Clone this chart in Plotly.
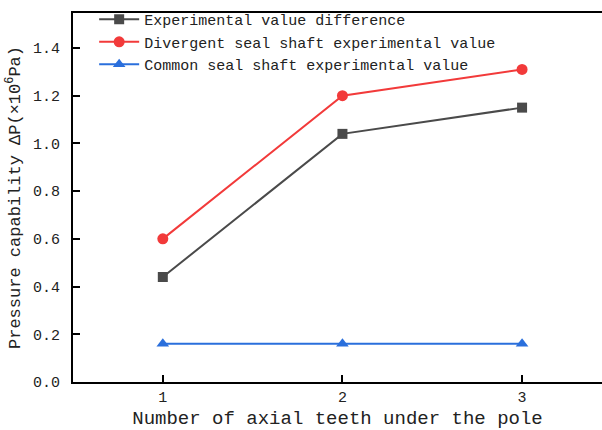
import plotly.graph_objects as go

# Number of axial teeth under the pole
teeth = [1, 2, 3]

# Pressure capability (x10^6 Pa)
diff_values = [0.44, 1.04, 1.15]
divergent_values = [0.60, 1.20, 1.31]
common_values = [0.16, 0.16, 0.16]

series_names = [
    "Experimental value difference",
    "Divergent seal shaft experimental value",
    "Common seal shaft experimental value",
]

FONT = "Liberation Mono"

fig = go.Figure()
fig.add_trace(go.Scatter(
    x=teeth, y=diff_values, name=series_names[0], mode="lines+markers",
    line=dict(color="#4a4a4a", width=2),
    marker=dict(symbol="square", size=10, color="#4a4a4a"),
))
fig.add_trace(go.Scatter(
    x=teeth, y=divergent_values, name=series_names[1], mode="lines+markers",
    line=dict(color="#f23a3a", width=2),
    marker=dict(symbol="circle", size=11, color="#f23a3a"),
))
fig.add_trace(go.Scatter(
    x=teeth, y=common_values, name=series_names[2], mode="lines+markers",
    line=dict(color="#2a6fdc", width=2),
    marker=dict(symbol="triangle-up", size=11, color="#2a6fdc"),
))

fig.update_layout(
    width=602, height=430,
    margin=dict(l=73, r=0, t=13, b=48),
    paper_bgcolor="white", plot_bgcolor="white",
    font=dict(family=FONT, color="#222", size=15),
    showlegend=True,
    legend=dict(
        x=0.04, y=1.027, xanchor="left", yanchor="top",
        bgcolor="rgba(0,0,0,0)", borderwidth=0,
        font=dict(family=FONT, size=15, color="#222"),
        itemwidth=40, tracegroupgap=0,
    ),
)

fig.update_xaxes(
    range=[0.5, 3.445],
    tickvals=teeth, ticktext=[str(t) for t in teeth],
    showline=True, linecolor="black", linewidth=2, mirror=True,
    ticks="inside", ticklen=7, tickwidth=2, tickcolor="black",
    showgrid=False, zeroline=False,
    tickfont=dict(family=FONT, size=15),
    title=dict(text="Number of axial teeth under the pole",
               font=dict(family=FONT, size=19), standoff=9),
)

fig.update_yaxes(
    range=[0, 1.5466],
    tickvals=[0.0, 0.2, 0.4, 0.6, 0.8, 1.0, 1.2, 1.4],
    tickformat=".1f",
    showline=True, linecolor="black", linewidth=2, mirror=False,
    ticks="inside", ticklen=7, tickwidth=2, tickcolor="black",
    showgrid=False, zeroline=False,
    tickfont=dict(family=FONT, size=15),
    ticklabelstandoff=8,
    title=dict(text="Pressure capability ΔP(×10<sup>6</sup>Pa)",
               font=dict(family=FONT, size=17), standoff=8),
)

fig.write_html("out.html")
